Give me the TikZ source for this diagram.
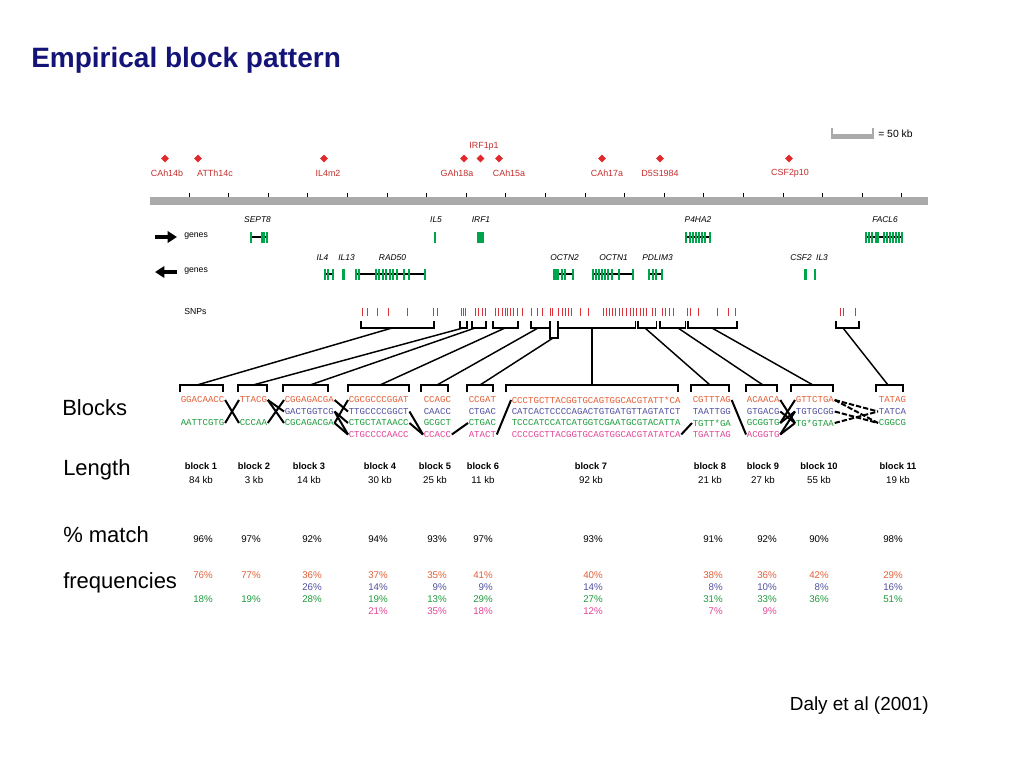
\documentclass[tikz,border=0pt]{standalone}
\usepackage{fontspec}
\setmainfont{Liberation Sans}
\newfontfamily\seqfont{Liberation Mono}
\usetikzlibrary{shapes.geometric,arrows.meta}
\definecolor{titleblue}{RGB}{20,20,120}
\definecolor{mkred}{RGB}{225,40,45}
\definecolor{mklabel}{RGB}{195,45,45}
\definecolor{rulergray}{RGB}{170,170,170}
\definecolor{genegreen}{RGB}{0,165,75}
\definecolor{snpred}{RGB}{220,50,60}
\definecolor{sqorange}{RGB}{225,95,55}
\definecolor{sqblue}{RGB}{80,80,160}
\definecolor{sqgreen}{RGB}{30,155,60}
\definecolor{sqpink}{RGB}{225,70,150}

\begin{document}
\begin{tikzpicture}[x=0.75pt,y=-0.75pt,
  marker/.style={diamond,fill=mkred,inner sep=0,minimum size=6pt},
  mlabel/.style={text=mklabel,font=\fontsize{6.7}{8}\selectfont,inner sep=0},
  glabel/.style={font=\fontsize{6.3}{7}\selectfont\itshape,inner sep=0},
  small/.style={font=\fontsize{6.5}{8}\selectfont,inner sep=0},
  side/.style={anchor=west,font=\fontsize{16.5}{18}\selectfont,inner sep=0},
  seq/.style={font=\seqfont\fontsize{6.8}{8}\selectfont,anchor=west,inner sep=0.4pt},
  blabel/.style={font=\bfseries\fontsize{7}{8}\selectfont,inner sep=0},
  kb/.style={font=\fontsize{7.3}{8}\selectfont,inner sep=0},
  pct/.style={font=\fontsize{7.3}{8}\selectfont,anchor=east,inner sep=0},
  geneline/.style={line width=1.9pt},
  exon/.style={genegreen,line width=1.5pt},
  bracket/.style={line width=1.4pt},
  link/.style={line width=1.1pt},
  cross/.style={line width=1.5pt},
  crossdash/.style={line width=1.5pt,dash pattern=on 4pt off 1.5pt}]
\useasboundingbox (0,0) rectangle (1024,768);

\node[anchor=west,text=titleblue,font=\bfseries\fontsize{21}{24}\selectfont,inner sep=0] (title) at (31,60) {Empirical block pattern};

% scale bar
\draw[rulergray,line width=3.8pt] (832,136.5) -- (873,136.5);
\draw[rulergray,line width=0.8pt] (832,128) -- (832,139) (873,128) -- (873,139);
\node[anchor=west,font=\fontsize{7.8}{9}\selectfont,inner sep=0] (scale) at (878,134) {= 50 kb};

% markers
\foreach \n/\x/\lx/\t in {m1/165/167/CAh14b, m2/198/215/ATTh14c, m3/324/328/IL4m2, m4/464/457/GAh18a,
    m6/499/509/CAh15a, m7/602/607/CAh17a, m8/660/660/D5S1984, m9/789/790/CSF2p10}{
  \node[marker] (\n) at (\x,158.5) {};
  \node[mlabel] (\n l) at (\lx,173.5) {\t};
}
\node[marker] (m5) at (480.5,158.5) {};
\node[mlabel] (m5l) at (484,146) {IRF1p1};

% ruler
\fill[rulergray] (150,197) rectangle (928,204.5);
\foreach \k in {0,...,18}
  \draw[line width=0.6pt] ({189+39.6*\k},192.5) -- ({189+39.6*\k},197);

% gene tracks
\draw[line width=3pt,-{Triangle[length=7pt,width=8.5pt]}] (155,237) -- (177,237);
\draw[line width=3pt,-{Triangle[length=7pt,width=8.5pt]}] (177,272) -- (155,272);
\node[small,anchor=west] (fwd) at (184,236) {genes};
\node[small,anchor=west] (rev) at (184,271) {genes};

\foreach \x/\t in {257.5/SEPT8, 436/IL5, 481/IRF1, 698/P4HA2, 885/FACL6}
  \node[glabel] at (\x,220) {\t};
\foreach \x/\t in {322.5/IL4, 346.5/IL13, 392.5/RAD50, 564.5/OCTN2, 613.5/OCTN1, 657.5/PDLIM3, 801/CSF2, 822/IL3}
  \node[glabel] at (\x,258) {\t};

% forward genes
\draw[geneline] (251,237) -- (268,237);
\foreach \x in {251,261.5,264,266.5} \draw[exon] (\x,232) -- (\x,243);
\draw[exon] (435,231.5) -- (435,243);
\fill[genegreen] (477,231.5) rectangle (483.5,243);
\draw[geneline] (686,237) -- (710,237);
\foreach \x in {686,689.5,692.5,695.5,698.5,701.5,704.5,709.5} \draw[exon] (\x,231.5) -- (\x,243);
\draw[geneline] (865,237) -- (902,237);
\foreach \x in {866,869,872,875.5,878,884,887,890,893,896,898.5,901.5} \draw[exon] (\x,231.5) -- (\x,243);

% reverse genes
\draw[geneline] (325,274) -- (333,274);
\foreach \x in {325,327.5,332.5} \draw[exon] (\x,268.5) -- (\x,280);
\fill[genegreen] (342,268.5) rectangle (344.5,280);
\draw[geneline] (356,274) -- (425,274);
\foreach \x in {356,358.5,375.5,379,382.5,386,389.5,393,396.5,404,409,424.5} \draw[exon] (\x,268.5) -- (\x,280);
\draw[geneline] (553,274) -- (573,274);
\fill[genegreen] (553,268.5) rectangle (558.5,280);
\foreach \x in {561.5,565,572.5} \draw[exon] (\x,268.5) -- (\x,280);
\draw[geneline] (592,274) -- (633,274);
\foreach \x in {592.5,595.5,598.5,601.5,604.5,608,611.5,619,632.5} \draw[exon] (\x,268.5) -- (\x,280);
\draw[geneline] (649,274) -- (662,274);
\foreach \x in {649,652.5,656,661.5} \draw[exon] (\x,268.5) -- (\x,280);
\fill[genegreen] (803.5,268.5) rectangle (806.5,280);
\draw[exon] (815,268.5) -- (815,280);

% SNPs
\node[small,anchor=west] (snps) at (184,312) {SNPs};
\foreach \x in {362,367,377,388,407,433,437,461,463,465,475,478,482,485,495,498,502,505,507,510,513,517,522,
    531,537,542,550,552,558,562,565,568,571,580,588,603,606,609,612,615,619,622,626,630,633,636,
    640,643,646,652,655,662,665,669,673,687,690,698,717,728,735,840,843,855}
  \draw[snpred,line width=0.7pt] (\x,308) -- (\x,316);

% SNP brackets
\foreach \n/\l/\r/\c in {1/361/434/392, 2/460/467/463, 3/472/486/475, 4/493/518/505, 5/531/550/538,
    7/558/635.5/592, 8/638/656.5/645, 9/660/685.5/678, 10/688/737/712, 11/836/859/843}{
  \draw[bracket] (\l,321) -- (\l,328) -- (\r,328) -- (\r,321);
  \coordinate (s\n) at (\c,328);
}
\draw[bracket] (550,321) -- (550,338) -- (558,338) -- (558,321);
\coordinate (s6) at (553,338);

% block brackets
\foreach \n/\l/\r/\c in {1/180/223/197, 2/238/267/253, 3/283/328/310, 4/348/409/380, 5/421/448/437,
    6/467/493/480, 7/506/678/592, 8/691/729/710, 9/746/777/763, 10/791/833/813, 11/876/903/888}{
  \draw[bracket] (\l,392) -- (\l,385) -- (\r,385) -- (\r,392);
  \coordinate (b\n) at (\c,385);
}
\foreach \n in {1,...,11} \draw[link] (s\n) -- (b\n);

% haplotypes
\foreach \n/\x/\s in {1/180/GGACAACC, 2/239/TTACG, 3/284/CGGAGACGA, 4/348/CGCGCCCGGAT, 5/423/CCAGC, 6/468/CCGAT,
    7/511/CCCTGCTTACGGTGCAGTGGCACGTATT*CA, 8/692/CGTTTAG, 9/746/ACAACA, 10/795/GTTCTGA, 11/878/TATAG}
  \node[seq,text=sqorange] (o\n) at (\x,400) {\s};
\foreach \n/\x/\s in {3/284/GACTGGTCG, 4/348/TTGCCCCGGCT, 5/423/CAACC, 6/468/CTGAC,
    7/511/CATCACTCCCCAGACTGTGATGTTAGTATCT, 8/692/TAATTGG, 9/746/GTGACG, 10/795/TGTGCGG, 11/878/TATCA}
  \node[seq,text=sqblue] (u\n) at (\x,411.5) {\s};
\foreach \n/\x/\s in {1/180/AATTCGTG, 2/239/CCCAA, 3/284/CGCAGACGA, 4/348/CTGCTATAACC, 5/423/GCGCT, 6/468/CTGAC,
    7/511/TCCCATCCATCATGGTCGAATGCGTACATTA, 8/692/TGTT*GA, 9/746/GCGGTG, 10/795/TG*GTAA, 11/878/CGGCG}
  \node[seq,text=sqgreen] (g\n) at (\x,423) {\s};
\foreach \n/\x/\s in {4/348/CTGCCCCAACC, 5/423/CCACC, 6/468/ATACT,
    7/511/CCCCGCTTACGGTGCAGTGGCACGTATATCA, 8/692/TGATTAG, 9/746/ACGGTG}
  \node[seq,text=sqpink] (p\n) at (\x,434.5) {\s};

% transitions
\draw[cross] (o1.east) -- (g2.west);
\draw[cross] (g1.east) -- (o2.west);
\draw[cross] (o2.east) -- (u3.west);
\draw[cross] (o2.east) -- (g3.west);
\draw[cross] (g2.east) -- (o3.west);
\draw[cross] (o3.east) -- (u4.west);
\draw[cross] (u3.east) -- (g4.west);
\draw[cross] (u3.east) -- (p4.west);
\draw[cross] (g3.east) -- (o4.west);
\draw[cross] (g3.east) -- (p4.west);
\draw[cross] (u4.east) -- (p5.west);
\draw[cross] (g4.east) -- (p5.west);
\draw[cross] (p5.east) -- (g6.west);
\draw[cross] (p6.east) -- (o7.west);
\draw[cross] (p7.east) -- (g8.west);
\draw[cross] (o8.east) -- (p9.west);
\draw[cross] (o9.east) -- (g10.west);
\draw[cross] (u9.east) -- (g10.west);
\draw[cross] (g9.east) -- (o10.west);
\draw[cross] (g9.east) -- (u10.west);
\draw[cross] (p9.east) -- (u10.west);
\draw[cross] (p9.east) -- (g10.west);
\draw[crossdash] (o10.east) -- (u11.west);
\draw[crossdash] (o10.east) -- (g11.west);
\draw[crossdash] (u10.east) -- (g11.west);
\draw[crossdash] (g10.east) -- (u11.west);

% row labels
\node[side] (lblocks) at (62,408) {Blocks};
\node[side] (llength) at (63,470) {Length};
\node[side] (lmatch) at (63,535) {\% match};
\node[side] (lfreq) at (63,583) {frequencies};

% block names and lengths
\foreach \n/\x/\k in {1/201/84, 2/254/3, 3/309/14, 4/380/30, 5/435/25, 6/483/11, 7/591/92, 8/710/21,
    9/763/27, 10/819/55, 11/898/19}{
  \node[blabel] (bn\n) at (\x,466) {block \n};
  \node[kb] (kb\n) at (\x,480) {\k\ kb};
}

% match and frequencies
\foreach \n/\x/\m/\a/\b/\c/\d in {1/213/96/76//18/, 2/261/97/77//19/, 3/322/92/36/26/28/, 4/388/94/37/14/19/21,
    5/447/93/35/9/13/35, 6/493/97/41/9/29/18, 7/603/93/40/14/27/12, 8/723/91/38/8/31/7,
    9/777/92/36/10/33/9, 10/829/90/42/8/36/, 11/903/98/29/16/51/}{
  \node[pct] (pm\n) at (\x,539) {\m\%};
  \node[pct,text=sqorange] (fo\n) at (\x,575) {\ifx\a\empty\else\a\%\fi};
  \node[pct,text=sqblue] (fu\n) at (\x,587) {\ifx\b\empty\else\b\%\fi};
  \node[pct,text=sqgreen] (fg\n) at (\x,599) {\ifx\c\empty\else\c\%\fi};
  \node[pct,text=sqpink] (fp\n) at (\x,611) {\ifx\d\empty\else\d\%\fi};
}

\node[anchor=east,font=\fontsize{14.2}{16}\selectfont,inner sep=0] (cite) at (929,706) {Daly et al (2001)};
\end{tikzpicture}
\end{document}
